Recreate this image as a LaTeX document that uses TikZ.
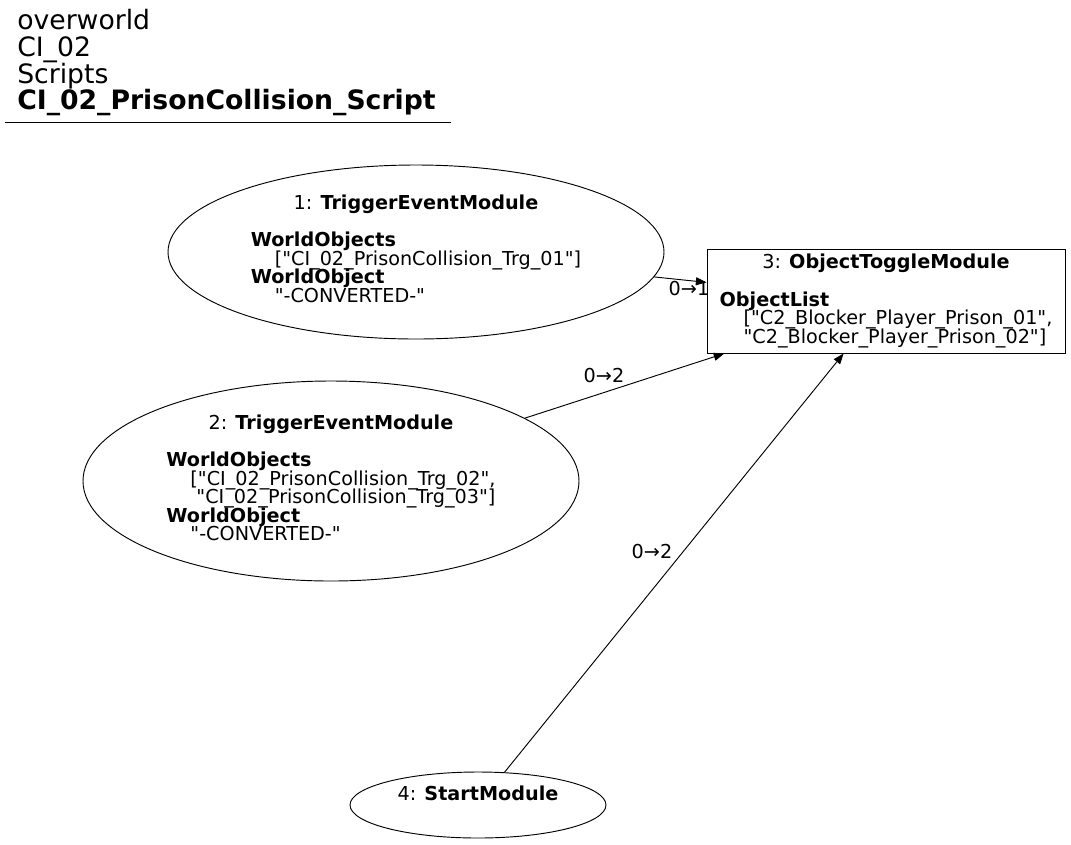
\documentclass[tikz,border=0pt]{standalone}
\usepackage{fontspec}
\setmainfont{DejaVu Sans}[Ligatures=TeXOff]
\usetikzlibrary{shapes.geometric,arrows.meta}
\newcommand{\ind}{\hspace*{18pt}}
\newcommand{\modbox}[2][0pt]{\vbox{\baselineskip=13.9pt\lineskiplimit=-50pt\lineskip=0pt\halign{##\hfil\cr#2\crcr}\kern#1}}
\begin{document}
\begin{tikzpicture}[x=0.75pt,y=-0.75pt,
	module/.style={draw,ellipse,inner sep=0pt,line width=0.7pt,font=\fontsize{14.4}{13.9}\selectfont},
	toggle/.style={draw,rectangle,inner sep=0pt,line width=0.7pt,minimum width=268.5pt,minimum height=78pt,font=\fontsize{14.4}{13.9}\selectfont},
	lbl/.style={inner sep=0pt,font=\fontsize{14.4}{14}\selectfont},
	link/.style={-{Triangle[length=8pt,width=6pt]},line width=0.7pt}]
	\useasboundingbox (0,0) rectangle (1071,844);
	\node[anchor=west,align=left,inner sep=0pt,font=\fontsize{20}{20}\selectfont] (title) at (17,63)
		{overworld\\CI\_02\\Scripts\\\textbf{CI\_02\_PrisonCollision\_Script}};
	\draw[line width=0.7pt] (5,122) -- (451,122);
	\node[module,minimum width=372pt,minimum height=130.5pt] (m1) at (416,252)
		{\modbox[4.5pt]{\hfil 1: \textbf{TriggerEventModule}\cr\cr
		\textbf{WorldObjects}\cr \ind["CI\_02\_PrisonCollision\_Trg\_01"]\cr
		\textbf{WorldObject}\cr \ind"-CONVERTED-"}};
	\node[module,minimum width=372pt,minimum height=150pt] (m2) at (331,481)
		{\modbox[4.5pt]{\hfil 2: \textbf{TriggerEventModule}\cr\cr
		\textbf{WorldObjects}\cr \ind["CI\_02\_PrisonCollision\_Trg\_02",\cr
		\ind\hspace*{4.5pt}"CI\_02\_PrisonCollision\_Trg\_03"]\cr
		\textbf{WorldObject}\cr \ind"-CONVERTED-"}};
	\node[toggle] (m3) at (886,301)
		{\modbox{\hfil 3: \textbf{ObjectToggleModule}\cr\cr
		\textbf{ObjectList}\cr \ind["C2\_Blocker\_Player\_Prison\_01",\cr
		\ind"C2\_Blocker\_Player\_Prison\_02"]}};
	\node[module,minimum width=192pt,minimum height=49.5pt] (m4) at (478,805)
		{\modbox{\hfil 4: \textbf{StartModule}\cr\strut}};
	\draw[link] (m1) -- (m3);
	\draw[link] (m2) -- (m3);
	\draw[link] (m4) -- (m3);
	\node[lbl] (l1) at (689,289) {0→1};
	\node[lbl] (l2) at (604,375) {0→2};
	\node[lbl] (l4) at (652,551) {0→2};
\end{tikzpicture}
\end{document}
